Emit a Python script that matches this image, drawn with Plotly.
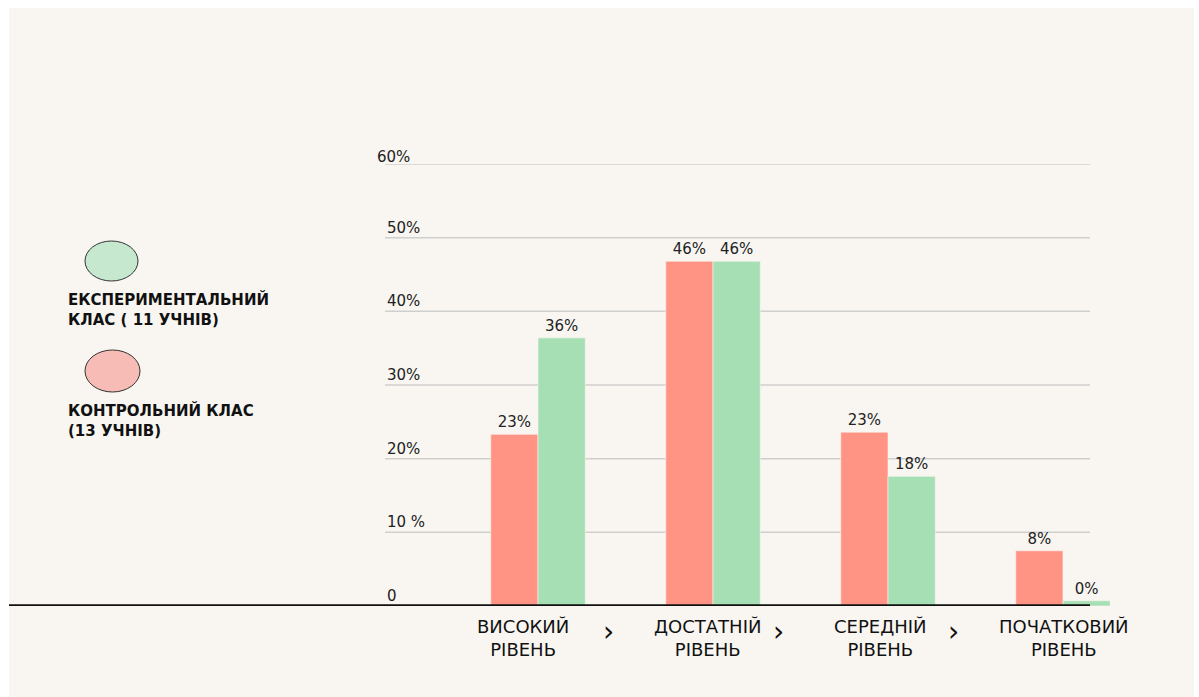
import plotly.graph_objects as go

# ---- data ----
categories = ["ВИСОКИЙ<br>РІВЕНЬ", "ДОСТАТНІЙ<br>РІВЕНЬ", "СЕРЕДНІЙ<br>РІВЕНЬ", "ПОЧАТКОВИЙ<br>РІВЕНЬ"]
control_values = [23.3, 46.8, 23.6, 7.5]
control_labels = ["23%", "46%", "23%", "8%"]
experimental_values = [36.4, 46.8, 17.6, 0.7]
experimental_labels = ["36%", "46%", "18%", "0%"]
tick_values = [0, 10, 20, 30, 40, 50, 60]
tick_labels = ["0", "10 %", "20%", "30%", "40%", "50%", "60%"]
legend_experimental = "ЕКСПЕРИМЕНТАЛЬНИЙ<br>КЛАС ( 11 УЧНІВ)"
legend_control = "КОНТРОЛЬНИЙ КЛАС<br>(13 УЧНІВ)"

# ---- layout geometry (pixels) ----
W, H = 1199, 697
PL, PR, PT, PB = 385, 1110, 164, 606   # plot area edges
UNIT = 175.0                              # px per category
X0 = -(538 - PL) / UNIT
X1 = X0 + (PR - PL) / UNIT

RED = "#ff9485"
GREEN = "#a6dfb4"
BG = "#f9f6f1"
FONT = "DejaVu Sans"

def px(x):
    return (x - PL) / (PR - PL)

def py(y):
    return (PB - y) / (PB - PT)

fig = go.Figure()
fig.add_trace(go.Bar(
    x=list(range(len(categories))), y=control_values, text=control_labels,
    name="Контрольний клас", marker=dict(color=RED, line=dict(color=BG, width=0.6)),
    textposition="outside", cliponaxis=False,
    textfont=dict(family=FONT, size=15, color="#222"),
))
fig.add_trace(go.Bar(
    x=list(range(len(categories))), y=experimental_values, text=experimental_labels,
    name="Експериментальний клас", marker=dict(color=GREEN, line=dict(color=BG, width=0.6)),
    textposition="outside", cliponaxis=False,
    textfont=dict(family=FONT, size=15, color="#222"),
))

shapes = []
# beige panel
shapes.append(dict(type="rect", xref="paper", yref="paper", layer="below",
                   x0=px(9), x1=px(1194), y0=py(697), y1=py(8),
                   fillcolor=BG, line=dict(width=0)))
# gridlines
grid_right = X0 + (1090 - PL) / UNIT
for v in tick_values[1:]:
    left = X0 - (8 / UNIT if v == 60 else 0)
    shapes.append(dict(type="line", xref="x", yref="y", layer="below",
                       x0=left, x1=grid_right, y0=v, y1=v,
                       line=dict(color="#cfcfcf", width=1.5)))
# baseline
shapes.append(dict(type="line", xref="paper", yref="y", layer="above",
                   x0=px(9), x1=px(1090), y0=0, y1=0,
                   line=dict(color="#111", width=3.5)))
# legend circles
shapes.append(dict(type="circle", xref="paper", yref="paper",
                   x0=px(85), x1=px(138), y0=py(281), y1=py(241),
                   fillcolor="#c5e8cf", line=dict(color="#333", width=1)))
shapes.append(dict(type="circle", xref="paper", yref="paper",
                   x0=px(85), x1=px(140), y0=py(392), y1=py(350),
                   fillcolor="#f8bcb6", line=dict(color="#333", width=1)))

annotations = []
# y tick labels
for v, t in zip(tick_values, tick_labels):
    annotations.append(dict(xref="x", yref="y", x=X0, y=v, text=t,
                            xshift=(-10 if v == 60 else 0), yshift=(-4 if v == 60 else -1),
                            xanchor="left", yanchor="bottom", showarrow=False,
                            font=dict(family=FONT, size=15, color="#222")))
# category labels (two lines)
cat_shift = [-15, -6, -8, 1]
for i, c in enumerate(categories):
    annotations.append(dict(xref="x", yref="paper", x=i, y=py(638), text=c,
                            xshift=cat_shift[i], xanchor="center", yanchor="middle",
                            showarrow=False, align="center",
                            font=dict(family=FONT, size=18, color="#111")))
# arrows between categories
for i in range(len(categories) - 1):
    annotations.append(dict(xref="x", yref="paper", x=i + 0.5, y=py(631), text="›",
                            xshift=(-17 if i == 0 else -22), xanchor="center",
                            yanchor="middle", showarrow=False,
                            font=dict(family=FONT, size=28, color="#111")))
# legend text
for txt, yy in ((legend_experimental, 309), (legend_control, 421)):
    annotations.append(dict(xref="paper", yref="paper", x=px(66), y=py(yy), text=txt,
                            xanchor="left", yanchor="middle", showarrow=False, align="left",
                            font=dict(family=FONT, size=15, color="#111", weight="bold")))

fig.update_layout(
    width=W, height=H,
    margin=dict(l=PL, r=W - PR, t=PT, b=H - PB, pad=0),
    paper_bgcolor="white", plot_bgcolor="rgba(0,0,0,0)",
    barmode="group", bargap=0.46, bargroupgap=0.0,
    showlegend=False,
    xaxis=dict(range=[X0, X1], showgrid=False, zeroline=False, showticklabels=False,
               showline=False, ticks=""),
    yaxis=dict(range=[0, 60], showgrid=False, zeroline=False, showticklabels=False,
               showline=False, ticks=""),
    shapes=shapes, annotations=annotations,
)

fig.write_html("out.html")
